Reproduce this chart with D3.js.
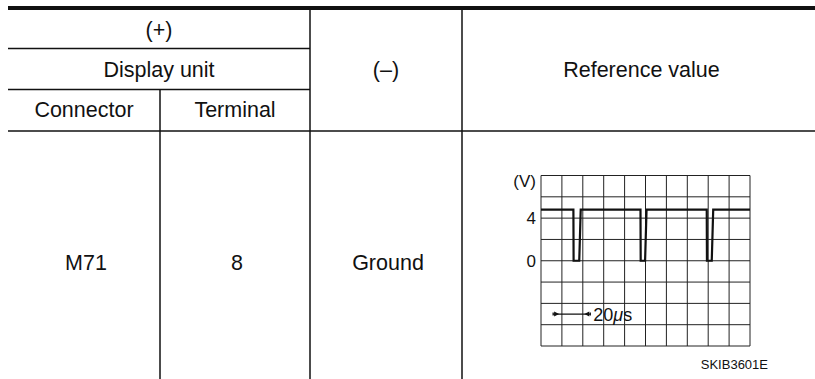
<!DOCTYPE html>
<html>
<head>
<meta charset="utf-8">
<script src="https://cdn.jsdelivr.net/npm/d3@7"></script>
<style>
  html, body { margin: 0; padding: 0; background: #fff; }
  svg { display: block; }
  text { font-family: "Liberation Sans", Arial, sans-serif; fill: #111; }
</style>
</head>
<body>
<svg id="chart" width="815" height="379"></svg>
<script>
// ---- Table content ----
const headerRow1 = ["(+)", "(\u2013)", "Reference value"];
const headerRow2 = ["Display unit"];
const headerRow3 = ["Connector", "Terminal"];
const bodyRow = ["M71", "8", "Ground"];

// ---- Waveform data (x in grid divisions, y in volts) ----
const gridColumns = d3.range(0, 11);          // 10 divisions across
const voltTicks = [-8, -6, -4, -2, 0, 2, 4, 6, 8]; // 2 V / div
const voltLabels = [4, 0];
const signalTime = [0, 1.55, 1.56, 1.83, 1.90, 4.76, 4.77, 4.98, 5.05, 7.93, 7.94, 8.17, 8.24, 10];
const signalVolt = [4.8, 4.8, 0, 0, 4.8, 4.8, 0, 0, 4.8, 4.8, 0, 0, 4.8, 4.8];
const timeBar = { from: 0.58, to: 2.36, volt: -5, label: "20", unit: "\u03bcs" };
const figureCode = "SKIB3601E";

const svg = d3.select("#chart");
const ink = "#111";

// ---- Table lines ----
const colX = [8, 160, 310, 462, 815];
const rowY = [8, 48.5, 89.5, 131, 379];
const lines = svg.append("g").attr("stroke", ink).attr("stroke-width", 1.5);

svg.append("line").attr("x1", colX[0]).attr("x2", colX[4]).attr("y1", rowY[0]).attr("y2", rowY[0])
  .attr("stroke", ink).attr("stroke-width", 4);
[
  [colX[0], colX[2], rowY[1]],
  [colX[0], colX[2], rowY[2]],
  [colX[0], colX[4], rowY[3]]
].forEach(([x1, x2, y]) => lines.append("line").attr("x1", x1).attr("x2", x2).attr("y1", y).attr("y2", y));
[
  [colX[1], rowY[2], rowY[4]],
  [colX[2], rowY[0], rowY[4]],
  [colX[3], rowY[0], rowY[4]]
].forEach(([x, y1, y2]) => lines.append("line").attr("x1", x).attr("x2", x).attr("y1", y1).attr("y2", y2));

const fs = 21.5;
function label(x, y, t, size, anchor) {
  svg.append("text").attr("x", x).attr("y", y).attr("text-anchor", anchor || "middle")
    .attr("font-size", size || fs).text(t);
}
label((colX[0] + colX[2]) / 2, 37, headerRow1[0]);
label((colX[2] + colX[3]) / 2, 77, headerRow1[1]);
label((colX[3] + colX[4]) / 2 + 3, 77, headerRow1[2]);
label((colX[0] + colX[2]) / 2, 77, headerRow2[0]);
label((colX[0] + colX[1]) / 2, 117, headerRow3[0]);
label((colX[1] + colX[2]) / 2, 117, headerRow3[1]);
bodyRow.forEach((t, i) => label((colX[i] + colX[i + 1]) / 2 + 2, 270, t));

// ---- Oscilloscope chart ----
const x = d3.scaleLinear().domain([0, 10]).range([541, 750]);
const y = d3.scaleLinear().domain([-8, 8]).range([346, 175.5]);

const grid = svg.append("g").attr("stroke", "#222").attr("stroke-width", 1);
grid.selectAll("line.v").data(gridColumns).enter().append("line")
  .attr("x1", d => x(d)).attr("x2", d => x(d)).attr("y1", y(8)).attr("y2", y(-8));
grid.selectAll("line.h").data(voltTicks).enter().append("line")
  .attr("x1", x(0)).attr("x2", x(10)).attr("y1", d => y(d)).attr("y2", d => y(d));

svg.append("g").selectAll("text").data(voltLabels).enter().append("text")
  .attr("x", x(0) - 5).attr("y", d => y(d)).attr("dy", "0.36em")
  .attr("text-anchor", "end").attr("font-size", 17).text(d => d);
svg.append("text").attr("x", x(0) - 5).attr("y", 187).attr("text-anchor", "end")
  .attr("font-size", 17).text("(V)");

const sig = signalTime.map((t, i) => [t, signalVolt[i]]);
svg.append("path").datum(sig)
  .attr("d", d3.line().x(d => x(d[0])).y(d => y(d[1])))
  .attr("fill", "none").attr("stroke", ink).attr("stroke-width", 2.2).attr("stroke-linejoin", "miter");

// time scale marker
const ty = y(timeBar.volt);
svg.append("line").attr("x1", x(timeBar.from)).attr("x2", x(timeBar.to)).attr("y1", ty).attr("y2", ty)
  .attr("stroke", ink).attr("stroke-width", 1.2);
[[timeBar.from, 1], [timeBar.to, -1]].forEach(([t, dir]) => {
  const px = x(t) + dir * 6;
  svg.append("path")
    .attr("d", `M${px},${ty} L${px - dir * 5},${ty - 2.5} L${px - dir * 5},${ty + 2.5} Z`)
    .attr("fill", ink);
  svg.append("line").attr("x1", x(t)).attr("x2", x(t)).attr("y1", ty - 1.5).attr("y2", ty + 1.5)
    .attr("stroke", ink).attr("stroke-width", 1.2);
});
const tl = svg.append("text").attr("x", x(timeBar.to) + 3).attr("y", ty).attr("dy", "0.36em")
  .attr("font-size", 18);
tl.append("tspan").text(timeBar.label);
tl.append("tspan").attr("font-style", "italic").text(timeBar.unit.charAt(0));
tl.append("tspan").text(timeBar.unit.slice(1));

svg.append("text").attr("x", 768).attr("y", 369).attr("text-anchor", "end")
  .attr("font-size", 13).text(figureCode);
</script>
</body>
</html>
